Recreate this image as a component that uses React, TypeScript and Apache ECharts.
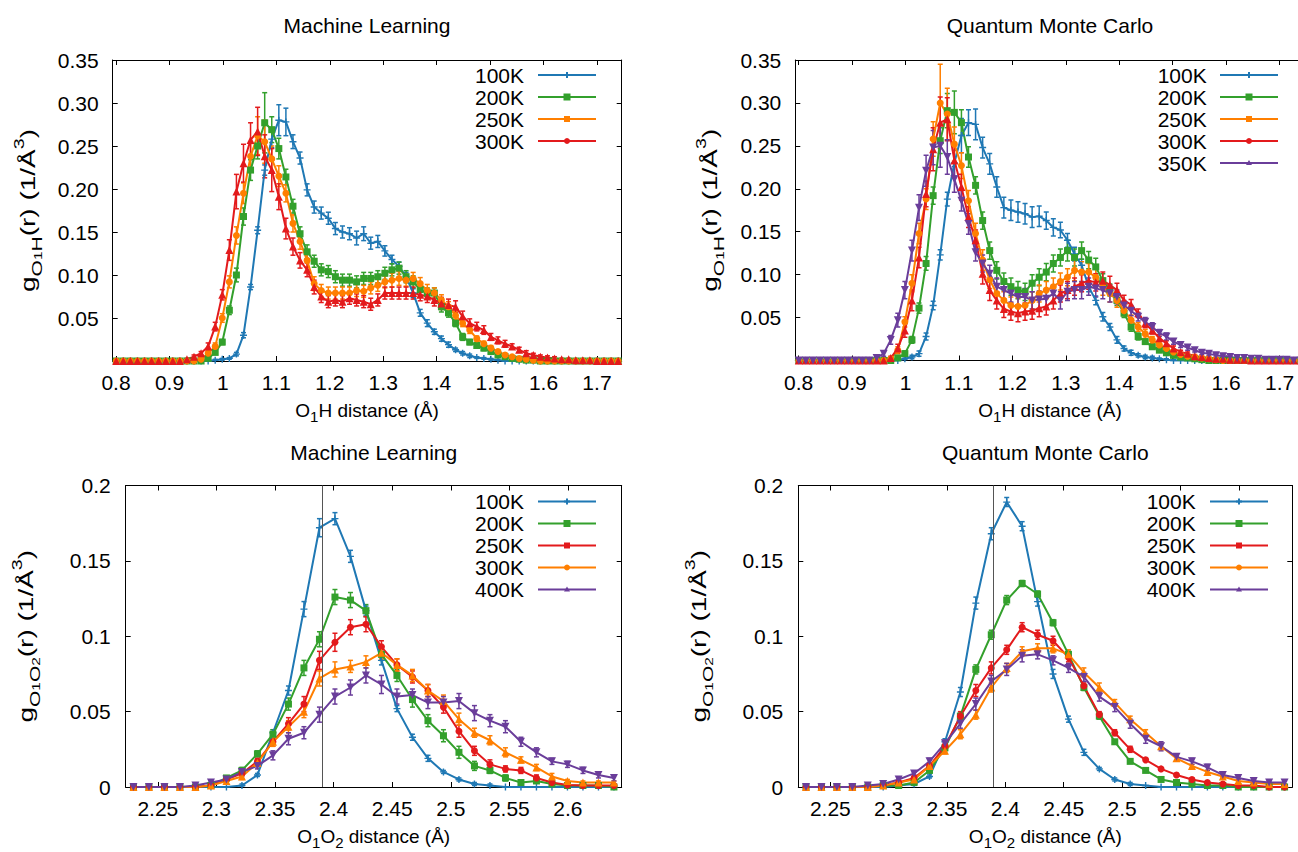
import { useEffect, useRef } from 'react';
import * as echarts from 'echarts';

const FONT = '"Liberation Sans", Arial, Helvetica, sans-serif';
const BOHR = 0.529177;

// histogram bin centres (0.025 bohr bins), in Å
const OH_R = Array.from({ length: 72 }, (_, k) => (1.5125 + 0.025 * k) * BOHR);
const OO_R = Array.from({ length: 32 }, (_, k) => (4.2125 + 0.025 * k) * BOHR);
const OH_MIN = 1.5 * BOHR;
const OH_MAX = 3.3 * BOHR;
const OO_MIN = 4.2 * BOHR;
const OO_MAX = 5.0 * BOHR;
const OO_MARK = 2.393;

const OH_XTICKS = [0.8, 0.9, 1, 1.1, 1.2, 1.3, 1.4, 1.5, 1.6, 1.7];
const OO_XTICKS = [2.25, 2.3, 2.35, 2.4, 2.45, 2.5, 2.55, 2.6];

const BLUE = '#1f78b4';
const GREEN = '#33a02c';
const ORANGE = '#ff7f00';
const RED = '#e31a1c';
const PURPLE = '#6a3d9a';

// ---- Machine Learning, O1-H ----
const ML_OH_100K = [
  0,0,0,0,0,0,0,0,0,0,0,0,
  0,0,0.001,0.002,0.003,0.008,0.030,0.086,0.152,0.222,0.258,0.280,
  0.278,0.255,0.236,0.199,0.179,0.172,0.166,0.154,0.150,0.148,0.143,0.148,
  0.137,0.139,0.128,0.118,0.110,0.098,0.079,0.056,0.044,0.034,0.026,0.019,
  0.013,0.009,0.006,0.004,0.003,0.002,0.001,0,0,0,0,0,
  0,0,0,0,0,0,0,0,0,0,0,0,
];
const ML_OH_100K_ERR = [
  1,1,1,1,1,1,1,1,1,1,1,1,
  1,1,1,1,1,2,3,3,4,6,10,18,
  16,8,7,7,7,7,7,7,7,7,8,8,
  7,7,6,5,5,5,5,4,4,3,3,3,
  2,2,2,1,1,1,1,1,1,1,1,1,
  1,1,1,1,1,1,1,1,1,1,1,1,
];
const ML_OH_200K = [
  0,0,0,0,0,0,0,0,0,0,0,0,
  0,0.003,0.010,0.022,0.059,0.100,0.168,0.222,0.250,0.277,0.269,0.247,
  0.214,0.180,0.148,0.127,0.116,0.106,0.104,0.098,0.094,0.094,0.092,0.096,
  0.096,0.098,0.102,0.106,0.108,0.098,0.092,0.083,0.079,0.079,0.063,0.056,
  0.044,0.028,0.022,0.018,0.015,0.011,0.007,0.005,0.003,0.002,0.001,0.001,
  0,0,0,0,0,0,0,0,0,0,0,0,
];
const ML_OH_200K_ERR = [
  1,1,1,1,1,1,1,1,1,1,1,1,
  1,1,2,3,5,8,10,12,15,35,15,12,
  9,8,8,8,7,7,7,7,7,7,7,7,
  7,7,7,7,7,7,7,7,6,6,6,5,
  4,4,3,3,3,2,2,1,1,1,1,1,
  1,1,1,1,1,1,1,1,1,1,1,1,
];
const ML_OH_250K = [
  0,0,0,0,0,0,0,0,0,0,0,0,
  0.002,0.009,0.017,0.050,0.092,0.146,0.195,0.238,0.262,0.255,0.235,0.215,
  0.195,0.160,0.139,0.117,0.090,0.082,0.079,0.079,0.079,0.079,0.082,0.081,
  0.085,0.088,0.092,0.094,0.096,0.094,0.096,0.090,0.082,0.079,0.071,0.063,
  0.053,0.044,0.036,0.026,0.020,0.015,0.011,0.007,0.005,0.003,0.002,0.001,
  0,0,0,0,0,0,0,0,0,0,0,0,
];
const ML_OH_250K_ERR = [
  1,1,1,1,1,1,1,1,1,1,1,1,
  1,2,4,5,7,10,12,15,22,25,15,12,
  10,10,9,8,8,7,7,7,7,7,7,7,
  7,7,7,8,8,7,7,7,7,6,6,6,
  5,4,4,3,3,3,2,2,1,1,1,1,
  1,1,1,1,1,1,1,1,1,1,1,1,
];
const ML_OH_300K = [
  0,0,0,0,0,0,0,0,0,0,0.002,0.005,
  0.009,0.017,0.040,0.077,0.129,0.197,0.230,0.257,0.267,0.238,0.222,0.191,
  0.154,0.133,0.117,0.106,0.086,0.075,0.069,0.071,0.069,0.073,0.071,0.069,
  0.066,0.071,0.079,0.079,0.079,0.079,0.079,0.077,0.075,0.071,0.067,0.065,
  0.063,0.052,0.044,0.040,0.036,0.028,0.024,0.020,0.017,0.013,0.009,0.007,
  0.005,0.004,0.003,0.002,0.002,0.001,0.001,0.001,0,0,0,0,
];
const ML_OH_300K_ERR = [
  1,1,1,1,1,1,1,1,1,1,1,2,
  2,4,5,6,12,20,22,20,28,25,25,15,
  12,10,9,8,8,7,7,7,7,7,7,7,
  7,7,7,7,7,7,7,7,7,7,7,7,
  7,6,5,5,5,4,4,4,3,3,3,2,
  2,2,2,1,1,1,1,1,1,1,1,1,
];

// ---- Quantum Monte Carlo, O1-H ----
const QMC_OH_100K = [
  0,0,0,0,0,0,0,0,0,0,0,0,
  0,0,0,0.002,0.004,0.008,0.028,0.064,0.123,0.188,0.230,0.262,
  0.277,0.275,0.248,0.229,0.202,0.178,0.175,0.173,0.171,0.167,0.168,0.163,
  0.155,0.152,0.140,0.124,0.111,0.086,0.070,0.051,0.039,0.024,0.014,0.009,
  0.006,0.004,0.003,0.002,0.001,0,0,0,0,0,0,0,
  0,0,0,0,0,0,0,0,0,0,0,0,
];
const QMC_OH_100K_ERR = [
  1,1,1,1,1,1,1,1,1,1,1,1,
  1,1,1,1,2,3,4,5,6,8,15,20,
  15,18,12,12,12,12,12,12,12,12,12,10,
  10,9,8,8,7,6,5,5,4,4,3,3,
  2,2,2,1,1,1,1,1,1,1,1,1,
  1,1,1,1,1,1,1,1,1,1,1,1,
];
const QMC_OH_200K = [
  0,0,0,0,0,0,0,0,0,0,0,0,
  0,0,0.003,0.008,0.024,0.061,0.113,0.192,0.256,0.291,0.289,0.277,
  0.237,0.204,0.163,0.128,0.105,0.092,0.086,0.082,0.080,0.090,0.097,0.103,
  0.113,0.120,0.128,0.120,0.128,0.117,0.109,0.093,0.082,0.070,0.055,0.039,
  0.028,0.022,0.016,0.012,0.009,0.006,0.004,0.003,0.002,0.001,0,0,
  0,0,0,0,0,0,0,0,0,0,0,0,
];
const QMC_OH_200K_ERR = [
  1,1,1,1,1,1,1,1,1,1,1,1,
  1,1,2,3,4,6,8,10,15,20,25,15,
  12,10,10,10,10,10,10,10,10,10,10,10,
  10,10,12,10,10,10,10,8,7,6,5,5,
  4,3,3,2,2,2,1,1,1,1,1,1,
  1,1,1,1,1,1,1,1,1,1,1,1,
];
const QMC_OH_250K = [
  0,0,0,0,0,0,0,0,0,0,0,0,
  0,0.002,0.012,0.045,0.090,0.148,0.188,0.258,0.300,0.287,0.252,0.227,
  0.186,0.148,0.117,0.094,0.078,0.070,0.064,0.063,0.064,0.070,0.078,0.082,
  0.086,0.092,0.097,0.105,0.103,0.103,0.097,0.086,0.078,0.070,0.058,0.047,
  0.039,0.031,0.024,0.018,0.014,0.010,0.007,0.005,0.004,0.003,0.002,0.001,
  0,0,0,0,0,0,0,0,0,0,0,0,
];
const QMC_OH_250K_ERR = [
  1,1,1,1,1,1,1,1,1,1,1,1,
  1,2,4,6,10,12,12,20,45,30,20,15,
  12,12,12,10,10,10,10,10,10,10,10,10,
  10,10,10,12,12,10,10,10,10,8,6,6,
  5,5,4,4,3,3,2,2,2,1,1,1,
  1,1,1,1,1,1,1,1,1,1,1,1,
];
const QMC_OH_300K = [
  0,0,0,0,0,0,0,0,0,0,0,0,
  0,0.003,0.014,0.035,0.070,0.120,0.194,0.246,0.277,0.281,0.233,0.202,
  0.167,0.140,0.101,0.082,0.070,0.060,0.057,0.055,0.057,0.058,0.061,0.063,
  0.070,0.078,0.082,0.086,0.090,0.093,0.091,0.093,0.088,0.082,0.070,0.065,
  0.055,0.043,0.035,0.026,0.020,0.014,0.010,0.008,0.005,0.004,0.003,0.002,
  0.002,0.001,0.001,0.001,0,0,0,0,0,0,0,0,
];
const QMC_OH_300K_ERR = [
  1,1,1,1,1,1,1,1,1,1,1,1,
  1,2,5,8,12,12,15,25,30,25,20,15,
  12,12,12,12,10,10,10,10,10,10,10,10,
  10,10,10,10,10,10,10,10,10,8,6,6,
  5,5,4,4,3,3,2,2,2,1,1,1,
  1,1,1,1,1,1,1,1,1,1,1,1,
];
const QMC_OH_350K = [
  0,0,0,0,0,0,0,0,0,0,0,0.003,
  0.008,0.024,0.047,0.082,0.128,0.178,0.221,0.248,0.250,0.237,0.211,0.186,
  0.159,0.126,0.113,0.101,0.086,0.082,0.078,0.074,0.074,0.070,0.071,0.072,
  0.078,0.070,0.080,0.082,0.082,0.086,0.084,0.082,0.078,0.074,0.064,0.058,
  0.051,0.045,0.039,0.032,0.028,0.022,0.018,0.015,0.012,0.009,0.008,0.006,
  0.005,0.004,0.003,0.003,0.002,0.002,0.001,0.001,0.001,0.001,0,0,
];
const QMC_OH_350K_ERR = [
  1,1,1,1,1,1,1,1,1,1,1,2,
  3,5,8,10,12,15,18,20,25,20,15,12,
  12,10,10,10,10,10,10,10,10,10,10,10,
  10,10,10,10,10,10,10,10,10,8,6,6,
  5,5,5,4,4,3,3,3,2,2,2,2,
  1,1,1,1,1,1,1,1,1,1,1,1,
];

// ---- Machine Learning, O1-O2 ----
const ML_OO_100K = [0,0,0,0,0,0,0,0.001,0.008,0.036,0.064,0.118,0.172,0.178,0.153,0.117,0.084,0.052,0.033,0.019,0.010,0.005,0.002,0.001,0,0,0,0,0,0,0,0];
const ML_OO_100K_ERR = [0,0,0,0,0,0,0,1,1,2,3,5,6,4,4,3,3,2,2,2,1,1,1,1,0,0,0,0,0,0,0,0];
const ML_OO_200K = [0,0,0,0,0,0.001,0.006,0.011,0.022,0.035,0.055,0.079,0.098,0.126,0.124,0.117,0.088,0.074,0.058,0.044,0.034,0.023,0.014,0.011,0.006,0.003,0.004,0.002,0.001,0.001,0.001,0];
const ML_OO_200K_ERR = [0,0,0,0,0,1,1,2,2,3,4,5,5,5,5,4,4,4,5,4,4,4,3,2,2,1,1,1,1,0,0,0];
const ML_OO_250K = [0,0,0,0,0,0.001,0.005,0.009,0.017,0.030,0.042,0.055,0.084,0.096,0.106,0.108,0.093,0.081,0.073,0.064,0.053,0.037,0.024,0.015,0.012,0.011,0.006,0.003,0.0014,0.001,0.001,0.001];
const ML_OO_250K_ERR = [0,0,0,0,0,1,1,2,2,3,4,5,6,6,5,5,4,4,4,4,4,4,3,3,2,2,2,1,1,1,0,0];
const ML_OO_300K = [0,0,0,0,0,0.001,0.004,0.007,0.016,0.030,0.040,0.050,0.072,0.078,0.080,0.083,0.089,0.081,0.074,0.064,0.057,0.045,0.036,0.031,0.023,0.018,0.013,0.007,0.004,0.003,0.003,0.003];
const ML_OO_300K_ERR = [0,0,0,0,0,1,1,2,2,3,4,4,5,5,4,4,4,4,4,4,4,4,3,3,3,2,2,2,1,1,1,1];
const ML_OO_400K = [0,0,0,0,0.001,0.003,0.005,0.010,0.014,0.021,0.032,0.036,0.048,0.060,0.066,0.074,0.068,0.060,0.061,0.056,0.056,0.057,0.049,0.044,0.040,0.030,0.023,0.017,0.015,0.011,0.008,0.006];
const ML_OO_400K_ERR = [0,0,0,0,1,1,1,2,2,3,4,4,5,5,5,5,6,5,4,4,4,5,5,4,4,3,3,2,2,2,2,2];

// ---- Quantum Monte Carlo, O1-O2 ----
const QMC_OO_100K = [0,0,0,0,0,0,0.001,0.002,0.007,0.030,0.063,0.122,0.168,0.189,0.173,0.123,0.075,0.045,0.023,0.012,0.005,0.002,0.001,0,0,0,0,0,0,0,0,0];
const QMC_OO_100K_ERR = [0,0,0,0,0,0,0,1,1,2,3,4,4,3,3,3,3,2,2,1,1,1,0,0,0,0,0,0,0,0,0,0];
const QMC_OO_200K = [0,0,0,0,0,0.001,0.001,0.003,0.011,0.026,0.047,0.078,0.101,0.124,0.135,0.128,0.109,0.088,0.066,0.047,0.030,0.017,0.011,0.005,0.003,0.002,0.001,0.001,0,0,0,0];
const QMC_OO_200K_ERR = [0,0,0,0,0,0,1,1,1,2,2,3,3,3,2,2,2,2,2,2,1,1,1,1,0,0,0,0,0,0,0,0];
const QMC_OO_250K = [0,0,0,0,0,0.001,0.003,0.006,0.014,0.027,0.047,0.064,0.079,0.091,0.106,0.101,0.097,0.086,0.067,0.048,0.036,0.025,0.018,0.012,0.008,0.005,0.003,0.002,0.001,0.001,0,0];
const QMC_OO_250K_ERR = [0,0,0,0,0,0,1,1,2,2,3,4,4,3,3,3,3,3,2,2,2,2,1,1,1,1,0,0,0,0,0,0];
const QMC_OO_300K = [0,0,0,0,0,0.001,0.003,0.005,0.014,0.024,0.035,0.048,0.066,0.079,0.090,0.092,0.092,0.088,0.076,0.066,0.056,0.045,0.036,0.027,0.019,0.014,0.010,0.007,0.004,0.003,0.002,0.002];
const QMC_OO_300K_ERR = [0,0,0,0,0,0,1,1,2,2,3,3,3,3,3,3,3,3,3,3,2,2,2,2,1,1,1,1,0,0,0,0];
const QMC_OO_400K = [0,0,0,0,0.001,0.002,0.005,0.009,0.017,0.029,0.042,0.055,0.070,0.078,0.087,0.088,0.084,0.079,0.073,0.060,0.053,0.042,0.032,0.027,0.020,0.017,0.013,0.008,0.006,0.004,0.003,0.003];
const QMC_OO_400K_ERR = [0,0,0,0,0,1,1,1,2,2,3,4,4,4,4,3,3,3,3,3,3,3,3,3,2,2,2,1,1,1,1,1];

type Mark = 'plus' | 'rect' | 'circle' | 'tri' | 'inv';
type Ser = { name: string; color: string; mark: Mark; values: number[]; err: number[] };

const SYMBOL: Record<Mark, string> = {
  plus: 'path://M4,0H6V4H10V6H6V10H4V6H0V4H4Z',
  rect: 'rect',
  circle: 'circle',
  tri: 'triangle',
  inv: 'path://M0,0L10,0L5,9Z',
};
const SYMSIZE: Record<Mark, number> = { plus: 7, rect: 7, circle: 7, tri: 8, inv: 8 };

const PANELS = [
  {
    title: 'Machine Learning',
    grid: { left: 112.7, top: 60, width: 509, height: 301 },
    xMin: OH_MIN, xMax: OH_MAX, yMax: 0.35, r: OH_R, xTicks: OH_XTICKS, oo: false,
    legend: { tr: 524, x1: 538, x2: 596, y0: 75 },
    yNameX: 28, nameX: 367,
    series: [
      { name: '100K', color: BLUE, mark: 'plus', values: ML_OH_100K, err: ML_OH_100K_ERR },
      { name: '200K', color: GREEN, mark: 'rect', values: ML_OH_200K, err: ML_OH_200K_ERR },
      { name: '250K', color: ORANGE, mark: 'circle', values: ML_OH_250K, err: ML_OH_250K_ERR },
      { name: '300K', color: RED, mark: 'tri', values: ML_OH_300K, err: ML_OH_300K_ERR },
    ] as Ser[],
  },
  {
    title: 'Quantum Monte Carlo',
    grid: { left: 795.3, top: 60, width: 509, height: 300.5 },
    xMin: OH_MIN, xMax: OH_MAX, yMax: 0.35, r: OH_R, xTicks: OH_XTICKS, oo: false,
    legend: { tr: 1206.7, x1: 1220, x2: 1278, y0: 75 },
    yNameX: 710, nameX: 1050,
    series: [
      { name: '100K', color: BLUE, mark: 'plus', values: QMC_OH_100K, err: QMC_OH_100K_ERR },
      { name: '200K', color: GREEN, mark: 'rect', values: QMC_OH_200K, err: QMC_OH_200K_ERR },
      { name: '250K', color: ORANGE, mark: 'circle', values: QMC_OH_250K, err: QMC_OH_250K_ERR },
      { name: '300K', color: RED, mark: 'tri', values: QMC_OH_300K, err: QMC_OH_300K_ERR },
      { name: '350K', color: PURPLE, mark: 'inv', values: QMC_OH_350K, err: QMC_OH_350K_ERR },
    ] as Ser[],
  },
  {
    title: 'Machine Learning',
    grid: { left: 125.7, top: 485.5, width: 496, height: 301.5 },
    xMin: OO_MIN, xMax: OO_MAX, yMax: 0.2, r: OO_R, xTicks: OO_XTICKS, oo: true,
    legend: { tr: 524, x1: 538, x2: 596, y0: 501.5 },
    yNameX: 26, nameX: 373.7,
    series: [
      { name: '100K', color: BLUE, mark: 'plus', values: ML_OO_100K, err: ML_OO_100K_ERR },
      { name: '200K', color: GREEN, mark: 'rect', values: ML_OO_200K, err: ML_OO_200K_ERR },
      { name: '250K', color: RED, mark: 'circle', values: ML_OO_250K, err: ML_OO_250K_ERR },
      { name: '300K', color: ORANGE, mark: 'tri', values: ML_OO_300K, err: ML_OO_300K_ERR },
      { name: '400K', color: PURPLE, mark: 'inv', values: ML_OO_400K, err: ML_OO_400K_ERR },
    ] as Ser[],
  },
  {
    title: 'Quantum Monte Carlo',
    grid: { left: 798.3, top: 485.5, width: 494, height: 301.5 },
    xMin: OO_MIN, xMax: OO_MAX, yMax: 0.2, r: OO_R, xTicks: OO_XTICKS, oo: true,
    legend: { tr: 1195.7, x1: 1210, x2: 1268, y0: 501.5 },
    yNameX: 699, nameX: 1045.3,
    series: [
      { name: '100K', color: BLUE, mark: 'plus', values: QMC_OO_100K, err: QMC_OO_100K_ERR },
      { name: '200K', color: GREEN, mark: 'rect', values: QMC_OO_200K, err: QMC_OO_200K_ERR },
      { name: '250K', color: RED, mark: 'circle', values: QMC_OO_250K, err: QMC_OO_250K_ERR },
      { name: '300K', color: ORANGE, mark: 'tri', values: QMC_OO_300K, err: QMC_OO_300K_ERR },
      { name: '400K', color: PURPLE, mark: 'inv', values: QMC_OO_400K, err: QMC_OO_400K_ERR },
    ] as Ser[],
  },
];

const RICH: any = {
  b: { fontSize: 20, fontFamily: FONT, fill: '#000', color: '#000', lineHeight: 32, verticalAlign: 'middle' },
  s: { fontSize: 15, fontFamily: FONT, fill: '#000', color: '#000', lineHeight: 17, verticalAlign: 'bottom' },
  ss: { fontSize: 11, fontFamily: FONT, fill: '#000', color: '#000', lineHeight: 10, verticalAlign: 'bottom' },
  p: { fontSize: 14, fontFamily: FONT, fill: '#000', color: '#000', lineHeight: 18, verticalAlign: 'top' },
  xb: { fontSize: 19, fontFamily: FONT, fill: '#000', color: '#000', lineHeight: 28, verticalAlign: 'middle' },
  xs: { fontSize: 15, fontFamily: FONT, fill: '#000', color: '#000', lineHeight: 15, verticalAlign: 'bottom' },
};

function errRender(color: string) {
  return (_params: any, api: any) => {
    const x = api.value(0);
    const y = api.value(1);
    const e = api.value(2);
    if (!(e > 0)) return { type: 'group', children: [] };
    const p1 = api.coord([x, y + e]);
    const p2 = api.coord([x, y - e]);
    const cap = 2.5;
    const st = { stroke: color, lineWidth: 1.5 };
    return {
      type: 'group',
      children: [
        { type: 'line', shape: { x1: p1[0], y1: p1[1], x2: p2[0], y2: p2[1] }, style: st },
        { type: 'line', shape: { x1: p1[0] - cap, y1: p1[1], x2: p1[0] + cap, y2: p1[1] }, style: st },
        { type: 'line', shape: { x1: p2[0] - cap, y1: p2[1], x2: p2[0] + cap, y2: p2[1] }, style: st },
      ],
    };
  };
}

function buildOption() {
  const grids: any[] = [];
  const xAxes: any[] = [];
  const yAxes: any[] = [];
  const series: any[] = [];
  const graphics: any[] = [];
  const lbl = { fontFamily: FONT, fontSize: 21, color: '#000' };
  const axLine = { show: true, onZero: false, lineStyle: { color: '#000', width: 1 } };

  PANELS.forEach((p, g) => {
    grids.push({ ...p.grid, containLabel: false, outerBoundsMode: 'none' });
    const xFmt = (v: number) => String(Math.round(v * 100) / 100);
    const yFmt = p.oo
      ? (v: number) => String(Math.round(v * 100) / 100)
      : (v: number) => (v < 1e-9 ? '' : v.toFixed(2));
    const xBase = {
      type: 'value', gridIndex: g, min: p.xMin, max: p.xMax,
      axisLine: axLine, splitLine: { show: false },
      axisTick: { show: true, inside: true, length: 5, customValues: p.xTicks, lineStyle: { color: '#000', width: 1 } },
    };
    xAxes.push({ ...xBase, position: 'bottom', axisLabel: { show: true, customValues: p.xTicks, margin: 11, formatter: xFmt, ...lbl } });
    xAxes.push({ ...xBase, position: 'top', axisLabel: { show: false } });
    const yBase = {
      type: 'value', gridIndex: g, min: 0, max: p.yMax, interval: 0.05,
      axisLine: axLine, splitLine: { show: false },
      axisTick: { show: true, inside: true, length: 5, lineStyle: { color: '#000', width: 1 } },
    };
    yAxes.push({ ...yBase, position: 'left', axisLabel: { show: true, margin: p.oo ? 15 : 14, formatter: yFmt, ...lbl } });
    yAxes.push({ ...yBase, position: 'right', axisLabel: { show: false } });

    p.series.forEach((s, i) => {
      series.push({
        type: 'custom', name: s.name + ' err', xAxisIndex: 2 * g, yAxisIndex: 2 * g,
        clip: true, silent: true, renderItem: errRender(s.color), encode: { x: 0, y: 1 },
        data: p.r.map((x, k) => [x, s.values[k], s.err[k] * 0.001]),
      });
      const line: any = {
        type: 'line', name: s.name, xAxisIndex: 2 * g, yAxisIndex: 2 * g,
        data: p.r.map((x, k) => [x, s.values[k]]),
        symbol: SYMBOL[s.mark], symbolSize: SYMSIZE[s.mark], showSymbol: true, showAllSymbol: true,
        lineStyle: { color: s.color, width: 2 }, itemStyle: { color: s.color, borderWidth: 0 },
        clip: true, silent: true,
      };
      if (p.oo && i === 0) {
        line.markLine = {
          silent: true, symbol: ['none', 'none'], label: { show: false },
          lineStyle: { color: '#555', width: 1, type: 'solid' },
          data: [{ xAxis: OO_MARK }],
        };
      }
      series.push(line);

      // legend entry
      const y = p.legend.y0 + i * 22;
      const xm = (p.legend.x1 + p.legend.x2) / 2;
      graphics.push({ type: 'text', x: p.legend.tr, y, style: { text: s.name, fontSize: 21, fontFamily: FONT, fill: '#000', align: 'right', verticalAlign: 'middle' } });
      graphics.push({ type: 'line', shape: { x1: p.legend.x1, y1: y, x2: p.legend.x2, y2: y }, style: { stroke: s.color, lineWidth: 2 } });
      if (i === 0) {
        graphics.push({ type: 'line', shape: { x1: xm - 3, y1: y, x2: xm + 3, y2: y }, style: { stroke: s.color, lineWidth: 2 } });
        graphics.push({ type: 'line', shape: { x1: xm, y1: y - 3, x2: xm, y2: y + 3 }, style: { stroke: s.color, lineWidth: 2 } });
      } else if (i === 1) {
        graphics.push({ type: 'rect', shape: { x: xm - 3.5, y: y - 3.5, width: 7, height: 7 }, style: { fill: s.color } });
      } else if (i === 2) {
        graphics.push({ type: 'rect', shape: { x: xm - 3, y: y - 3, width: 6, height: 6 }, style: { fill: s.color } });
      } else if (i === 3) {
        graphics.push({ type: 'circle', shape: { cx: xm, cy: y, r: 3 }, style: { fill: s.color } });
      } else {
        graphics.push({ type: 'polygon', shape: { points: [[xm - 3, y + 2], [xm + 3, y + 2], [xm, y - 3]] }, style: { fill: s.color } });
      }
    });

    const cy = p.grid.top + p.grid.height / 2;
    const titleY = p.oo ? 452 : 25;
    graphics.push({ type: 'text', x: p.nameX, y: titleY, style: { text: p.title, fontSize: 21, fontFamily: FONT, fill: '#000', align: 'center', verticalAlign: 'middle' } });
    graphics.push({
      type: 'text', x: p.nameX, y: p.oo ? 836 : 410,
      style: {
        text: p.oo ? '{xb|O}{xs|1}{xb|O}{xs|2}{xb| distance (Å)}' : '{xb|O}{xs|1}{xb|H distance (Å)}',
        rich: RICH, align: 'center', verticalAlign: 'middle',
      },
    });
    graphics.push({
      type: 'text', x: p.yNameX, y: cy, rotation: Math.PI / 2, scaleX: 1.4,
      style: {
        text: p.oo ? '{b|g}{s|O}{ss|1}{s|O}{ss|2}{b|(r) (1/Å}{p|3}{b|)}' : '{b|g}{s|O}{ss|1}{s|H}{b|(r) (1/Å}{p|3}{b|)}',
        rich: RICH, align: 'center', verticalAlign: 'middle',
      },
    });
  });

  return {
    animation: false,
    backgroundColor: '#fff',
    grid: grids,
    xAxis: xAxes,
    yAxis: yAxes,
    series,
    graphic: { elements: graphics },
  };
}

export default function App() {
  const ref = useRef<HTMLDivElement>(null);
  useEffect(() => {
    if (!ref.current) return;
    const chart = echarts.init(ref.current, undefined, { renderer: 'svg' });
    chart.setOption(buildOption() as any);
    return () => chart.dispose();
  }, []);
  return <div ref={ref} style={{ position: 'absolute', left: 0, top: 0, width: 1298, height: 852 }} />;
}
